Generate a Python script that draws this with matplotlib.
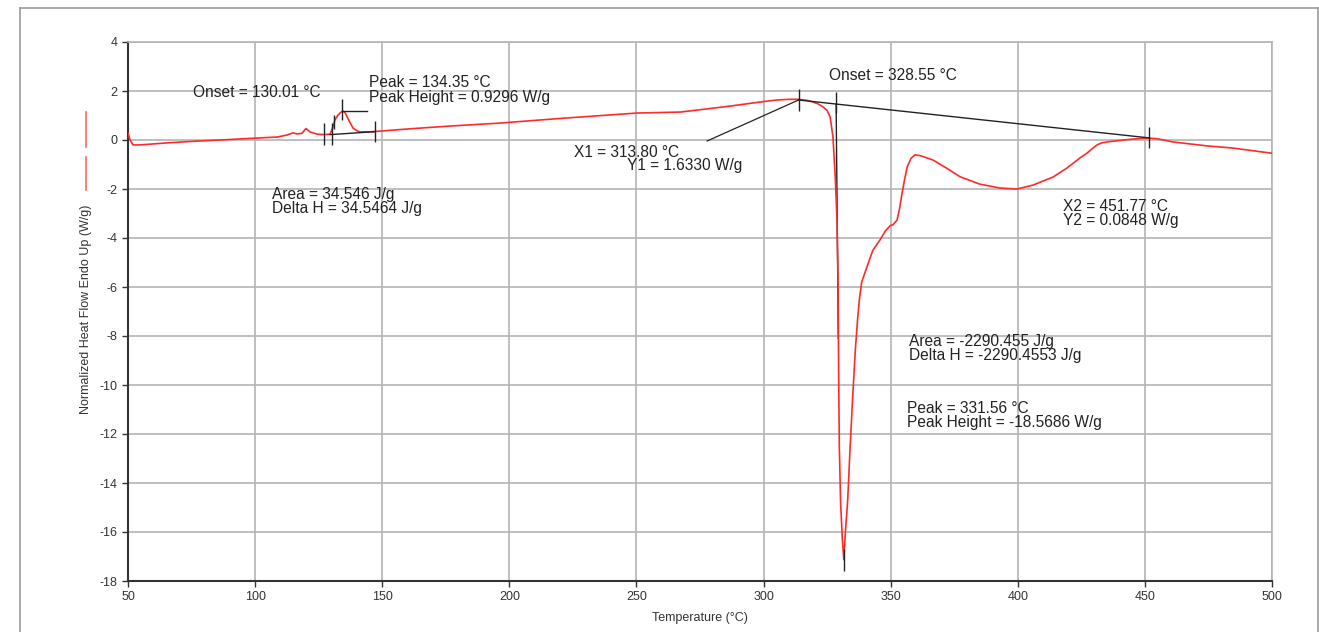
#!/usr/bin/env python3
import matplotlib
matplotlib.use('Agg')
import matplotlib.pyplot as plt
from matplotlib.lines import Line2D

plt.rcParams['font.family'] = ['Liberation Sans', 'DejaVu Sans']
plt.rcParams['axes.unicode_minus'] = False

# DSC curve: temperature (C) and heat flow (W/g)
temperature = [
    50, 50.8, 52, 54.7, 60, 65, 78, 90, 100.7, 108.6,
    112.5, 114.9, 116.5, 118.4, 120, 121.6, 124.3, 127, 129.5, 130.5,
    131.4, 132.6, 133.6, 134.6, 135.5, 136.5, 137.5, 138.5, 140, 141.3,
    146.4, 160, 176.7, 196.3, 220, 250.2, 267.2, 277.8, 288, 298.6,
    305, 310, 313.6, 317, 319.5, 321.5, 323.4, 325, 326.2, 327.3,
    328.2, 328.9, 329.3, 329.5, 329.8, 330.3, 331, 331.56, 332.2, 333.1,
    334, 335, 336.1, 337, 337.7, 338.6, 340.6, 343, 345.8, 348,
    349.8, 351, 352.5, 353.5, 354.5, 355.5, 356.5, 358, 359.6, 362, 366.7,
    372, 377.3, 385, 393, 399.7, 406, 413.9, 419.4, 424.5, 427.3,
    429, 431.2, 433, 435.1, 440, 445.4, 451.3, 455, 461.1, 474.4, 484.7, 499.2, 500,
]
heat_flow = [
    0.29, 0.0, -0.2, -0.2, -0.16, -0.12, -0.04, 0.02, 0.08, 0.12,
    0.2, 0.29, 0.25, 0.27, 0.47, 0.33, 0.24, 0.22, 0.24, 0.5,
    0.82, 1.02, 1.12, 1.18, 1.1, 0.88, 0.68, 0.49, 0.38, 0.33,
    0.34, 0.45, 0.57, 0.69, 0.88, 1.1, 1.14, 1.27, 1.4, 1.55,
    1.63, 1.66, 1.66, 1.62, 1.55, 1.47, 1.35, 1.2, 0.94, 0.12,
    -1.5, -3.27, -5.7, -9.0, -12.5, -14.8, -16.3, -17.13, -16.0, -14.7,
    -12.65, -10.6, -8.57, -7.3, -6.5, -5.8, -5.2, -4.5, -4.08, -3.7,
    -3.5, -3.45, -3.27, -2.8, -2.16, -1.6, -1.1, -0.75, -0.6, -0.65, -0.82,
    -1.15, -1.5, -1.8, -1.96, -2.0, -1.84, -1.51, -1.14, -0.73, -0.53,
    -0.38, -0.2, -0.12, -0.08, -0.02, 0.04, 0.08, 0.05, -0.08, -0.24, -0.33, -0.53, -0.54,
]

x_ticks = [50, 100, 150, 200, 250, 300, 350, 400, 450, 500]
y_ticks = [4, 2, 0, -2, -4, -6, -8, -10, -12, -14, -16, -18]

# analysis results (small peak)
peak1_baseline_t = [129.5, 147.2]
peak1_baseline_v = [0.22, 0.34]
peak1_ticks_t = [127.1, 130.4, 147.2]
peak1_ticks_lo = [-0.2, -0.2, -0.08]
peak1_ticks_hi = [0.69, 0.69, 0.78]
peak1_t, peak1_v = 134.35, 1.18

# analysis results (large peak)
x1, y1 = 313.80, 1.6330
x2, y2 = 451.77, 0.0848
onset2 = 328.55
peak2_t, peak2_v = 331.56, -17.13

fig = plt.figure(figsize=(13.19, 6.32), dpi=100)
ax = fig.add_axes([128 / 1319, 1 - 581 / 632, 1144 / 1319, 539 / 632])

grid_c = '#b4b4b4'
dark = '#222222'

ax.plot(temperature, heat_flow, color='#ff2a2a', linewidth=1.2, zorder=3)

# small peak annotation marks
ax.plot(peak1_baseline_t, peak1_baseline_v, color=dark, linewidth=1, zorder=4)
ax.vlines(peak1_ticks_t, peak1_ticks_lo, peak1_ticks_hi, color=dark, linewidth=1, zorder=4)
ax.vlines([131.0], [0.45], [1.02], color=dark, linewidth=1, zorder=4)
ax.vlines([peak1_t], [0.82], [1.67], color=dark, linewidth=1, zorder=4)
ax.plot([peak1_t, 144.0], [peak1_v, peak1_v], color=dark, linewidth=1, zorder=4)

# large peak annotation marks
ax.plot([x1, x2], [y1, y2], color=dark, linewidth=1, zorder=4)
ax.vlines([x1], [1.18], [2.08], color=dark, linewidth=1, zorder=4)
ax.vlines([onset2], [1.1], [1.96], color=dark, linewidth=1, zorder=4)
ax.vlines([x2], [-0.33], [0.53], color=dark, linewidth=1, zorder=4)
ax.plot([onset2, 329.4], [1.47, -8.1], color=dark, linewidth=1, zorder=2)
ax.vlines([peak2_t], [-17.6], [-16.7], color=dark, linewidth=1, zorder=4)
ax.plot([277.8, x1], [-0.04, y1], color=dark, linewidth=0.9, zorder=4)

fs = 11.2
ls = 0.95
ax.text(75.6, 1.92, 'Onset = 130.01 \u00b0C', fontsize=fs, va='center', ha='left', color=dark)
ax.text(144.8, 2.04, 'Peak = 134.35 \u00b0C\nPeak Height = 0.9296 W/g', fontsize=fs,
        va='center', ha='left', color=dark, linespacing=ls)
ax.text(106.6, -2.5, 'Area = 34.546 J/g\nDelta H = 34.5464 J/g', fontsize=fs,
        va='center', ha='left', color=dark, linespacing=ls)
ax.text(225.4, -0.49, 'X1 = 313.80 \u00b0C', fontsize=fs, va='center', ha='left', color=dark)
ax.text(246.3, -1.06, 'Y1 = 1.6330 W/g', fontsize=fs, va='center', ha='left', color=dark)
ax.text(325.8, 2.65, 'Onset = 328.55 \u00b0C', fontsize=fs, va='center', ha='left', color=dark)
ax.text(417.8, -3.0, 'X2 = 451.77 \u00b0C\nY2 = 0.0848 W/g', fontsize=fs,
        va='center', ha='left', color=dark, linespacing=ls)
ax.text(357.2, -8.5, 'Area = -2290.455 J/g\nDelta H = -2290.4553 J/g', fontsize=fs,
        va='center', ha='left', color=dark, linespacing=ls)
ax.text(356.4, -11.25, 'Peak = 331.56 \u00b0C\nPeak Height = -18.5686 W/g', fontsize=fs,
        va='center', ha='left', color=dark, linespacing=ls)

ax.set_xlim(50, 500)
ax.set_ylim(-18, 4)
ax.set_xticks(x_ticks)
ax.set_yticks(y_ticks)
ax.tick_params(axis='both', labelsize=9, length=4, width=1, color='#333333', labelcolor='#333333')
ax.grid(True, color=grid_c, linewidth=1.2)
ax.set_axisbelow(True)
for side in ['top', 'right']:
    ax.spines[side].set_color(grid_c)
    ax.spines[side].set_linewidth(1.2)
for side in ['left', 'bottom']:
    ax.spines[side].set_color('#333333')
    ax.spines[side].set_linewidth(1.5)

ax.set_xlabel('Temperature (\u00b0C)', fontsize=9, color='#333333', labelpad=6)
fig.text(86 / 1319, 1 - 309 / 632, 'Normalized Heat Flow Endo Up (W/g)', rotation=90,
         fontsize=9, color='#333333', ha='center', va='center')

# red series sample next to the y label
fig.add_artist(Line2D([86 / 1319, 86 / 1319], [1 - 112 / 632, 1 - 147 / 632], color='#ff6a6a', linewidth=1.2))
fig.add_artist(Line2D([86 / 1319, 86 / 1319], [1 - 157 / 632, 1 - 190 / 632], color='#ff6a6a', linewidth=1.2))

# outer frame
frame_c = '#9a9a9a'
fig.add_artist(Line2D([20 / 1319, 1318 / 1319], [1 - 8 / 632, 1 - 8 / 632], color=frame_c, linewidth=1.2))
fig.add_artist(Line2D([20 / 1319, 20 / 1319], [0, 1 - 8 / 632], color=frame_c, linewidth=1.2))
fig.add_artist(Line2D([1318 / 1319, 1318 / 1319], [0, 1 - 8 / 632], color=frame_c, linewidth=1.2))

fig.savefig('out.png', dpi=100)
